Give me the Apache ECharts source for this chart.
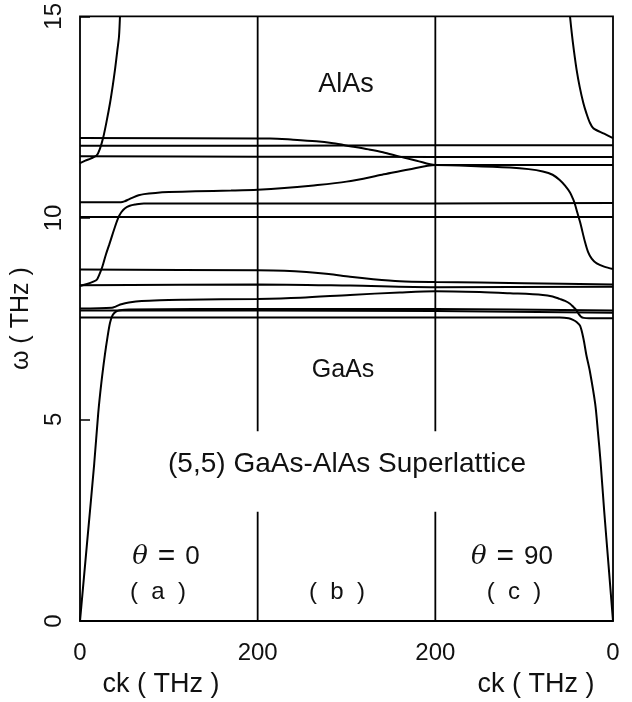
<!DOCTYPE html>
<html>
<head>
<meta charset="utf-8">
<script src="https://cdn.jsdelivr.net/npm/echarts@6/dist/echarts.min.js"></script>
<style>
html,body{margin:0;padding:0;background:#fff;}
#chart{width:632px;height:702px;}
</style>
</head>
<body>
<div id="chart"></div>
<script>
// Combined horizontal coordinate: panel (a) ck 0..200 (theta=0), panel (b) theta 0..90 at ck=200 (200..400),
// panel (c) ck 200..0 at theta=90 (400..600).
const xTickLabels = ['0', '200', '200', '0'];
const yTickValues = [0, 5, 10, 15];

// Mode branches [x, omega(THz)]
const branchU1 = [[0,11.36],[6,11.42],[12,11.47],[18.8,11.55],[22.5,11.72],[26.2,12.0],[30,12.4],[33.8,12.85],[37,13.3],[39.4,13.68],[42,14.15],[43.9,14.5],[45,15]];
const branchA1 = [[0,11.98],[200,11.97],[214,11.97],[240,11.94],[266,11.9],[285,11.85],[304,11.78],[325,11.7],[341,11.63],[360,11.52],[379,11.42],[400,11.31],[500,11.31],[600,11.31]];
const branchF1 = [[0,11.79],[200,11.79],[400,11.8],[600,11.8]];
const branchF2 = [[0,11.53],[200,11.52],[400,11.51],[600,11.51]];
const branchU2 = [[0,10.39],[46,10.39],[50,10.41],[55,10.46],[60,10.51],[66,10.56],[72,10.59],[85,10.62],[100,10.64],[130,10.66],[170,10.68],[200,10.7],[230,10.74],[260,10.8],[300,10.9],[340,11.07],[370,11.2],[400,11.31],[440,11.29],[484,11.25],[505,11.21],[521,11.15],[532,11.07],[540,10.94],[546,10.8],[551.6,10.63],[555,10.47],[557,10.35],[560,10.12],[563,9.89],[568.5,9.4],[572,9.15],[576,8.99],[581.7,8.87],[590,8.79],[600,8.73]];
const branchL2 = [[0,8.31],[8,8.36],[15,8.42],[19,8.47],[21.5,8.58],[24.4,8.74],[26,8.85],[29,9.08],[32.8,9.33],[35,9.48],[38.2,9.7],[43,10.0],[46.5,10.14],[50.7,10.24],[56,10.3],[62,10.33],[72,10.36],[200,10.36],[400,10.36],[600,10.37]];
const branchF4 = [[0,10.02],[200,10.02],[400,10.02],[600,10.02]];
const branchT = [[551.6,15],[553.5,14.6],[556,14.15],[559,13.68],[562.5,13.25],[566.6,12.85],[570,12.6],[574,12.36],[578,12.22],[590,12.09],[600,11.98]];
const branchL4 = [[0,8.72],[200,8.7],[230,8.69],[255,8.66],[280,8.61],[304,8.54],[330,8.48],[360,8.43],[400,8.41],[500,8.38],[600,8.35]];
const branchL5 = [[0,8.33],[200,8.35],[304,8.32],[400,8.28],[600,8.29]];
const branchL3 = [[0,7.75],[36,7.77],[40,7.8],[43,7.83],[46.5,7.86],[55,7.9],[69.4,7.94],[90,7.96],[118,7.97],[200,7.99],[248,8.02],[304,8.09],[360,8.15],[400,8.18],[450,8.16],[484,8.13],[521,8.09],[532,8.05],[540,7.99],[546,7.94],[551.6,7.87],[555,7.8],[558.5,7.72],[561,7.63],[564,7.55],[567,7.52],[573,7.51],[600,7.51]];
const branchF5 = [[0,7.7],[200,7.7],[400,7.69],[600,7.65]];
const branchL1 = [[0,0],[8,1.95],[16,3.9],[20.5,5.15],[24,5.9],[28,6.6],[31,7.05],[33.8,7.4],[36.5,7.58],[40,7.67],[45,7.71],[55,7.73],[200,7.74],[400,7.74],[600,7.7]];
const branchB = [[0,7.53],[200,7.53],[400,7.53],[540,7.53],[550,7.51],[555,7.47],[559,7.42],[563,7.32],[566.6,7.02],[570,6.6],[574,6.19],[580,5.38],[583,4.7],[586,3.95],[590,2.75],[595,1.38],[600,0]];

const branches = [branchU1, branchA1, branchF1, branchF2, branchU2, branchL2, branchF4, branchT, branchL4, branchL5, branchL3, branchF5, branchL1, branchB];

// Panel dividers (x) with the gap left for the title
const dividerX = [200, 400];
const dividerSpans = [[0, 2.71], [4.71, 15]];

const FONT = '"Liberation Sans", Arial, sans-serif';
const INK = '#111';

const series = [];
branches.forEach(function (b) {
  series.push({
    type: 'line', data: b, showSymbol: false, smooth: 0.3, silent: true,
    lineStyle: { color: '#000', width: 2 }, clip: true
  });
});
dividerX.forEach(function (x) {
  dividerSpans.forEach(function (s) {
    series.push({
      type: 'line', data: [[x, s[0]], [x, s[1]]], showSymbol: false, silent: true,
      lineStyle: { color: '#000', width: 1.8 }
    });
  });
});

function txt(x, y, text, size) {
  return { type: 'text', x: x, y: y, style: { text: text, font: size + 'px ' + FONT, fill: INK, textAlign: 'center', textVerticalAlign: 'middle' } };
}
function thetaTxt(x, y, val) {
  return {
    type: 'text', x: x, y: y,
    style: {
      text: '{i|θ} {e|=} {n|' + val + '}', font: '25px ' + FONT, fill: INK, textAlign: 'center', textVerticalAlign: 'middle',
      rich: {
        i: { fontStyle: 'italic', fontSize: 26, fontFamily: '"DejaVu Serif", serif', fill: INK },
        e: { fontSize: 30, fontFamily: FONT, fill: INK, padding: [0, 3] },
        n: { fontSize: 26, fontFamily: FONT, fill: INK }
      }
    }
  };
}

const chart = echarts.init(document.getElementById('chart'), null, { renderer: 'canvas' });
chart.setOption({
  animation: false,
  backgroundColor: '#fff',
  grid: { left: 80, right: 19, top: 13, bottom: 81, show: true, borderColor: '#000', borderWidth: 1.8, backgroundColor: 'transparent' },
  xAxis: {
    type: 'value', min: 0, max: 600, interval: 200,
    axisLine: { show: false }, axisTick: { show: false }, splitLine: { show: false },
    axisLabel: {
      margin: 20, fontSize: 24, color: INK, fontFamily: FONT, showMinLabel: true, showMaxLabel: true,
      formatter: function (v) { return xTickLabels[Math.round(v / 200)]; }
    }
  },
  yAxis: {
    type: 'value', min: 0, max: 15, interval: 5,
    axisLine: { show: false }, splitLine: { show: false },
    axisTick: { show: true, inside: true, length: 10, lineStyle: { color: '#000', width: 1.5 } },
    axisLabel: {
      rotate: 90, margin: 14, fontSize: 24, color: INK, fontFamily: FONT, showMinLabel: true, showMaxLabel: true, hideOverlap: false,
      formatter: function (v) { return yTickValues.indexOf(v) >= 0 ? String(v) : ''; }
    },
    name: 'ω ( THz )', nameLocation: 'middle', nameRotate: 90, nameGap: 40,
    nameTextStyle: { fontSize: 25, color: INK, fontFamily: FONT }
  },
  graphic: [
    txt(346, 85, 'AlAs', 27),
    txt(343, 370, 'GaAs', 25),
    txt(347, 464, '(5,5) GaAs-AlAs Superlattice', 28),
    thetaTxt(166, 557, '0'),
    txt(158, 592, '(  a  )', 24),
    txt(337, 592, '(  b  )', 24),
    thetaTxt(512, 557, '90'),
    txt(514, 592, '(  c  )', 24),
    txt(161, 685, 'ck ( THz )', 27),
    txt(536, 685, 'ck ( THz )', 27)
  ],
  series: series
});
</script>
</body>
</html>
